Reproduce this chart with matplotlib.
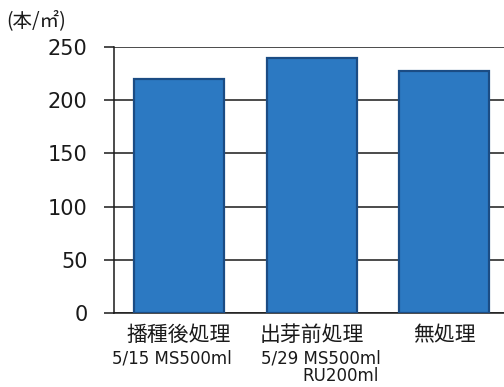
import matplotlib
matplotlib.use("Agg")
import matplotlib.pyplot as plt
from matplotlib.transforms import blended_transform_factory

plt.rcParams['font.family'] = ['Noto Sans CJK JP', 'DejaVu Sans']

categories = ["播種後処理", "出芽前処理", "無処理"]
sub_labels = ["5/15 MS500ml", "5/29 MS500ml", ""]
sub_labels2 = ["", "RU200ml", ""]
values = [220, 240, 227]
yticks = [0, 50, 100, 150, 200, 250]
unit_label = "(本/㎡)"

fig = plt.figure(figsize=(5.04, 3.87), dpi=100)
ax = fig.add_axes([114/504, 74/387, 390/504, 266/387])

x = list(range(len(categories)))
ax.set_axisbelow(True)
ax.yaxis.grid(True, color='#1a1a1a', linewidth=1.1, linestyle='-')
ax.bar(x, values, width=0.68, color='#2c79c2', edgecolor='#1b4c84', linewidth=1.6, zorder=3)

ax.set_ylim(0, 250)
ax.set_xlim(-0.49, 2.45)
ax.set_yticks(yticks)
ax.set_yticklabels([str(v) for v in yticks], fontsize=15, family=['DejaVu Sans'], color='#1a1a1a')
ax.tick_params(axis='y', direction='out', length=7, width=1.1, pad=12, colors='#1a1a1a')
ax.set_xticks(x)
ax.set_xticklabels(categories, fontsize=15, color='#1a1a1a')
ax.tick_params(axis='x', length=0, pad=8)

for s in ['top', 'right']:
    ax.spines[s].set_visible(False)
ax.spines['left'].set_color('#1a1a1a')
ax.spines['bottom'].set_color('#1a1a1a')
ax.spines['left'].set_linewidth(1.1)
ax.spines['bottom'].set_linewidth(1.1)

trans = blended_transform_factory(ax.transData, ax.transAxes)
sub_offsets = [-0.05, 0.07, 0.0]
for i, lab in enumerate(sub_labels):
    if lab:
        ax.text(i + sub_offsets[i], -0.17, lab, transform=trans, ha='center', va='center',
                fontsize=12, family=['DejaVu Sans'], color='#1a1a1a')
for i, lab in enumerate(sub_labels2):
    if lab:
        ax.text(i + 0.22, -0.238, lab, transform=trans, ha='center', va='center', fontsize=12,
                family=['DejaVu Sans'], color='#1a1a1a')

fig.text(6/504, 1 - 21/387, unit_label, ha='left', va='center', fontsize=14, color='#1a1a1a')

fig.savefig("out.png", dpi=100)
